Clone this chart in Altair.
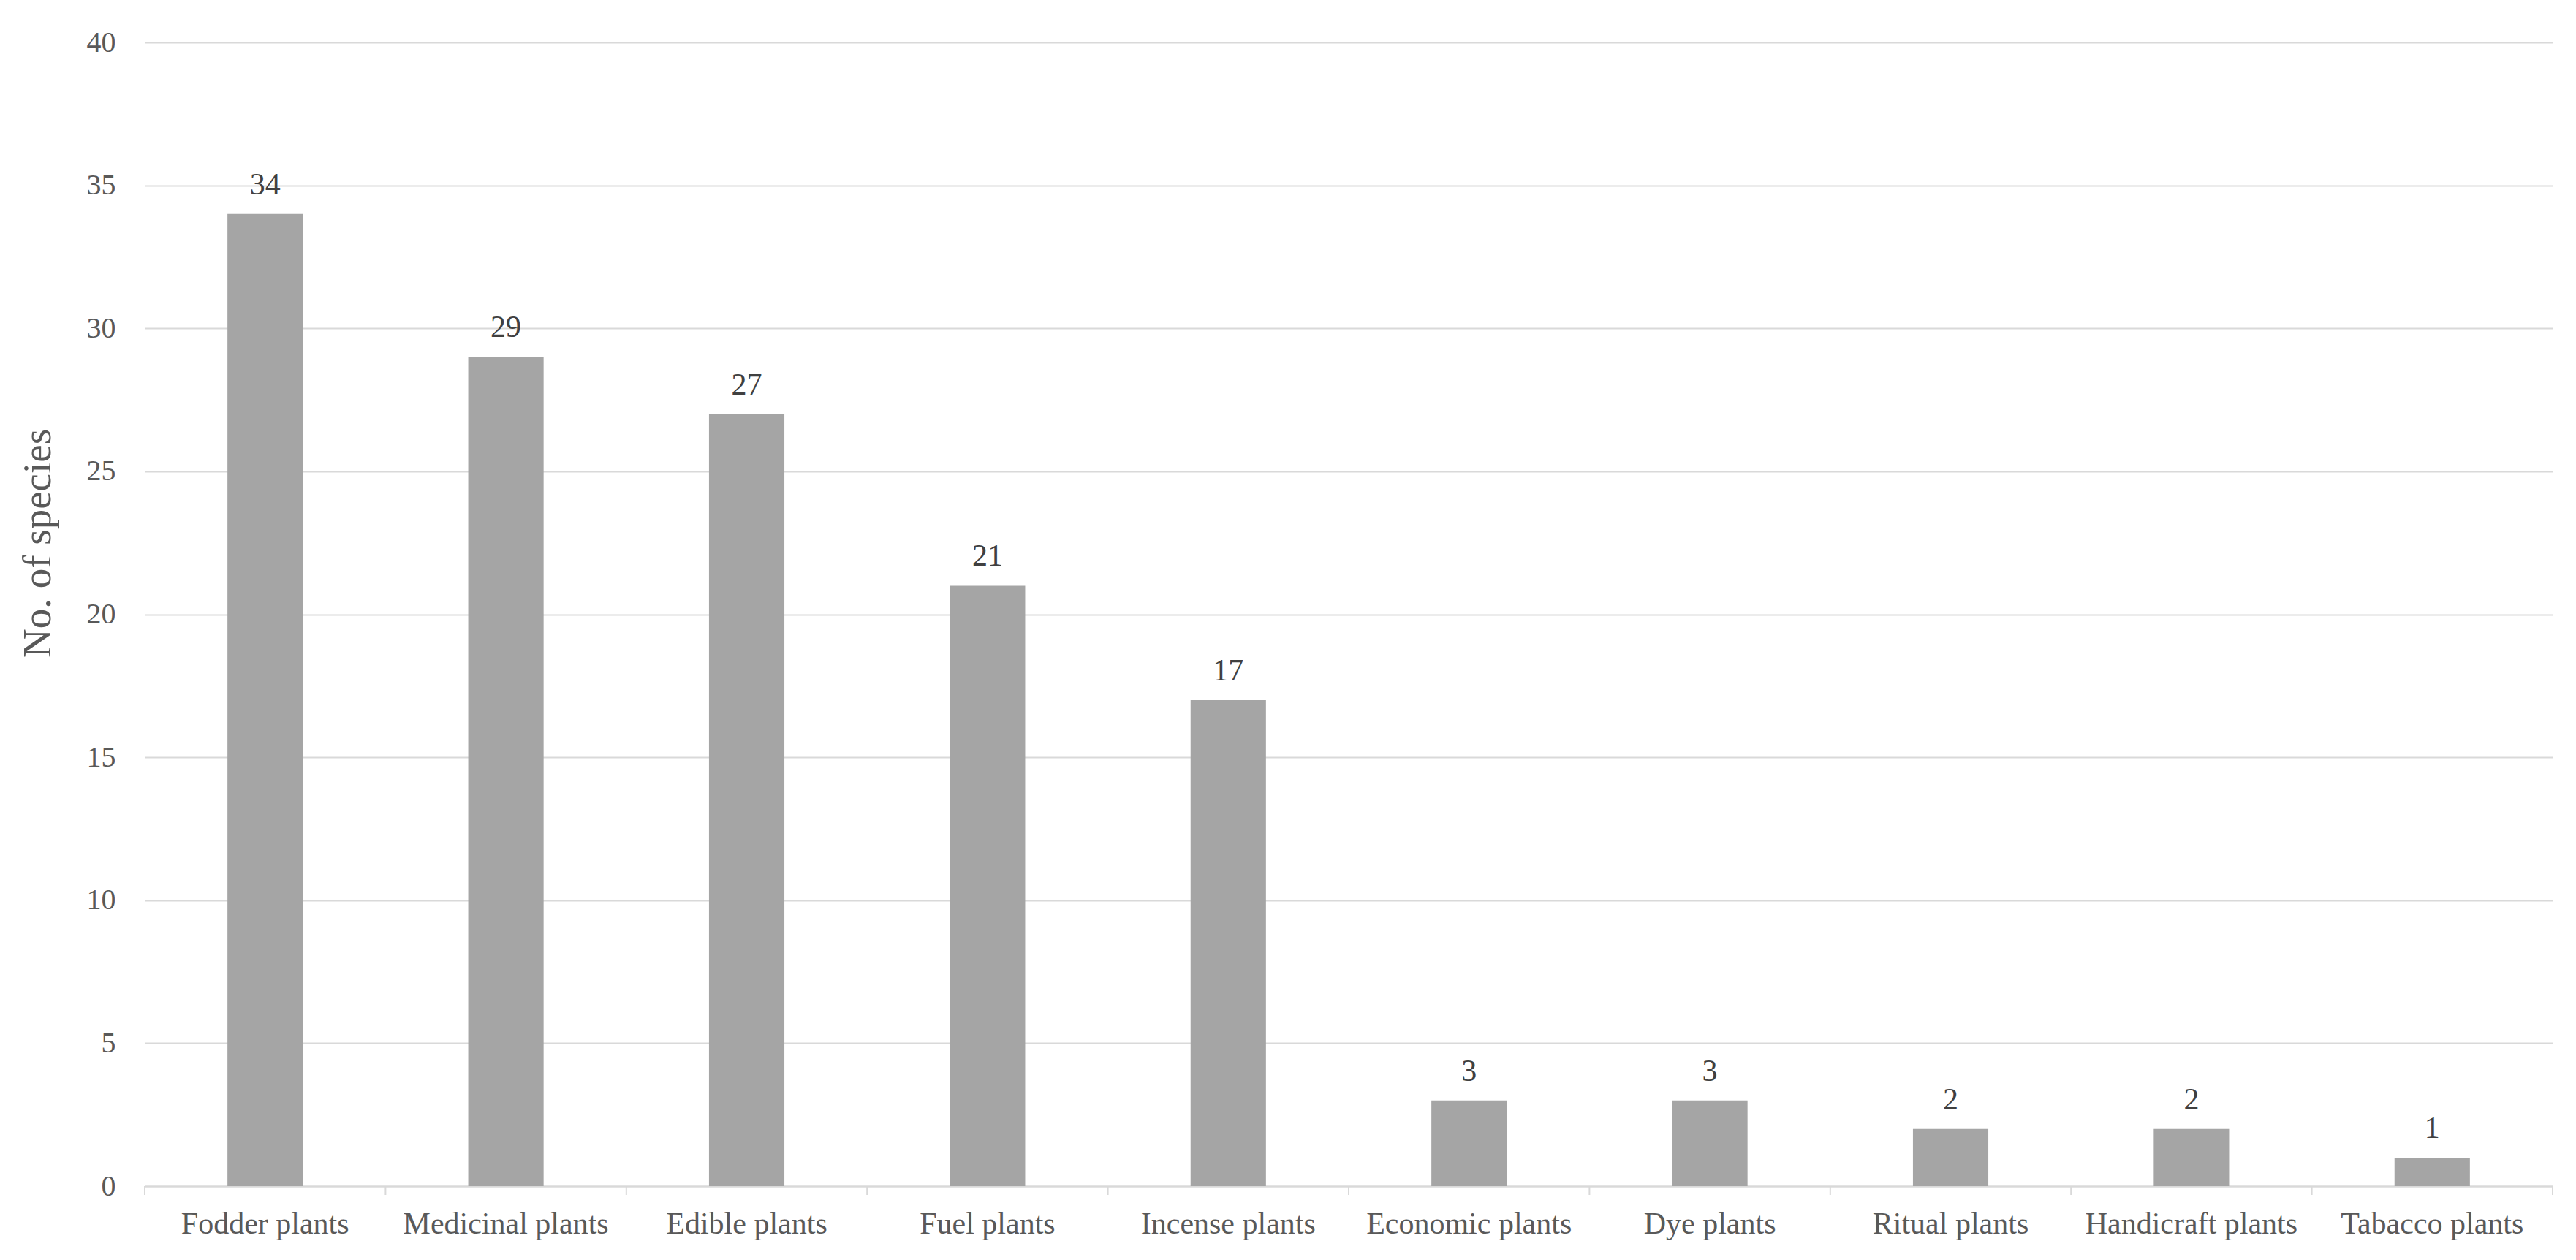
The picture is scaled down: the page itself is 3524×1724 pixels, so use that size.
import altair as alt
import pandas as pd

categories = ["Fodder plants", "Medicinal plants", "Edible plants", "Fuel plants",
              "Incense plants", "Economic plants", "Dye plants", "Ritual plants",
              "Handicraft plants", "Tabacco plants"]
values = [34, 29, 27, 21, 17, 3, 3, 2, 2, 1]
y_ticks = [0, 5, 10, 15, 20, 25, 30, 35, 40]

df = pd.DataFrame({"cat": categories, "n": values})
last_df = pd.DataFrame({"cat": categories[-1:]})

W, H = 3294, 1565
FONT = "Liberation Serif"
LABEL = "#595959"
GRID = "#D9D9D9"

x_enc = alt.X("cat:N", sort=categories,
              scale=alt.Scale(domain=categories, paddingInner=0, paddingOuter=0),
              axis=alt.Axis(title=None, ticks=False, tickSize=0, labelAngle=0,
                            grid=False,
                            labelFont=FONT, labelFontSize=42, labelColor=LABEL,
                            labelBaseline="alphabetic", labelPadding=64,
                            labelLimit=1000,
                            domainColor=GRID, domainWidth=2))

bars = alt.Chart(df).mark_bar(color="#A5A5A5", width={"band": 0.313}).encode(
    x=x_enc,
    y=alt.Y("n:Q", scale=alt.Scale(domain=[0, 40], nice=False),
            axis=alt.Axis(values=y_ticks, title="No. of species", domain=False,
                          ticks=False, tickSize=0, grid=True, gridColor=GRID,
                          gridWidth=2, labelFont=FONT, labelFontSize=40,
                          labelColor=LABEL, labelPadding=40,
                          titleFont=FONT, titleFontSize=55, titleFontWeight="normal",
                          titleColor=LABEL, titleAngle=270, titleX=-130, titleY=685,
                          titleAlign="center", titleBaseline="alphabetic")),
)

texts = alt.Chart(df).mark_text(font=FONT, fontSize=42, color="#404040",
                                baseline="alphabetic", dy=-27).encode(
    x=alt.X("cat:N", sort=categories),
    y=alt.Y("n:Q"),
    text=alt.Text("n:Q"),
)

ticks = alt.Chart(df).mark_rule(color=GRID, strokeWidth=2).encode(
    x=alt.X("cat:N", sort=categories, bandPosition=0),
    y=alt.value(H),
    y2=alt.value(H + 12),
)
ticks_end = alt.Chart(last_df).mark_rule(color=GRID, strokeWidth=2).encode(
    x=alt.X("cat:N", sort=categories, bandPosition=1),
    y=alt.value(H),
    y2=alt.value(H + 12),
)

chart = alt.layer(bars, texts, ticks, ticks_end).properties(
    width=W, height=H,
    autosize=alt.AutoSizeParams(type="none"),
    padding={"left": 190, "top": 50, "right": 14, "bottom": 90},
).configure_view(strokeWidth=0, stroke="transparent").configure(background="white")

chart.save("out.html", embed_options={"renderer": "svg", "actions": False})
